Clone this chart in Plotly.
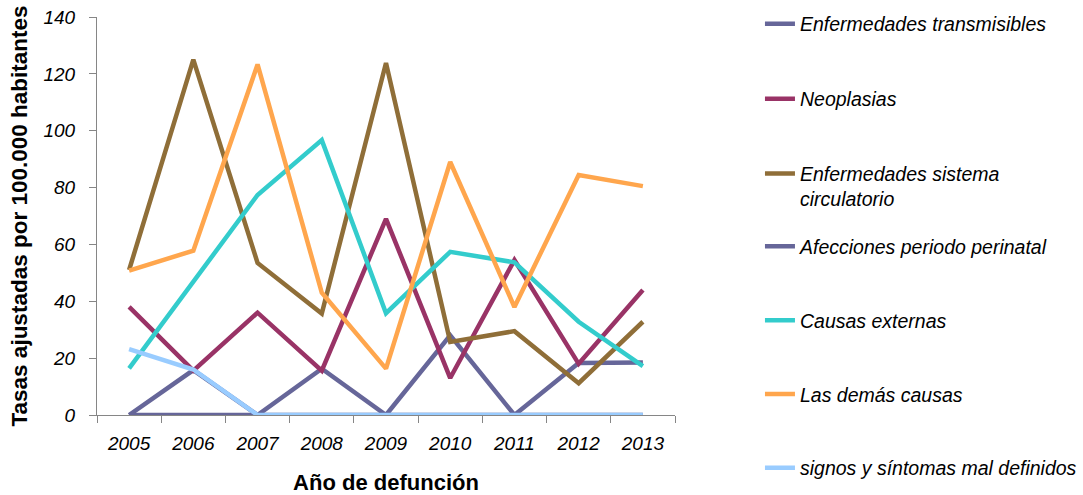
import plotly.graph_objects as go

# Años de defunción (categorías del eje X)
years = ["2005", "2006", "2007", "2008", "2009", "2010", "2011", "2012", "2013"]

# Tasas ajustadas por 100.000 habitantes, por gran grupo de causas
transmisibles = [0, 15.8, 0, 16.3, 0, 28, 0, 18.3, 18.5]
neoplasias = [38, 15.6, 36, 15.6, 69, 13, 54.5, 18, 44]
circulatorio = [51, 125, 53.5, 35.7, 123.8, 25.7, 29.5, 11.2, 32.8]
perinatal = [0, 0, 0, 0, 0, 0, 0, 0, 0]
externas = [16.4, 47, 77.4, 96.7, 35.8, 57.4, 53.7, 32.8, 17.2]
demas = [50.8, 57.8, 123.3, 43, 16.3, 89, 38, 84.4, 80.5]
signos = [23.2, 16, 0, 0, 0, 0, 0, 0, 0]

names = [
    "Enfermedades transmisibles",
    "Neoplasias",
    "Enfermedades sistema<br>circulatorio",
    "Afecciones periodo perinatal",
    "Causas externas",
    "Las demás causas",
    "signos y síntomas mal definidos",
]
series = [transmisibles, neoplasias, circulatorio, perinatal, externas, demas, signos]
colors = ["#666699", "#993366", "#8F6E38", "#666699", "#33CCCC", "#FFA64D", "#99CCFF"]
# las tres primeras causas van en la primera leyenda, el resto en la segunda
legends = ["legend", "legend", "legend", "legend2", "legend2", "legend2", "legend2"]

FONT = "Liberation Sans, Arial, sans-serif"

fig = go.Figure()
for name, vals, col, leg in zip(names, series, colors, legends):
    fig.add_trace(go.Scatter(
        x=years, y=vals, name=name, mode="lines",
        line=dict(color=col, width=4.5),
        legend=leg, legendgroup=name,
    ))

legend_font = dict(family=FONT, size=19.5, color="#000000", style="italic")
tick_font = dict(family=FONT, size=19, style="italic", color="#000000")

fig.update_layout(
    width=1083, height=495,
    margin=dict(l=97, r=408, t=17, b=80, autoexpand=False),
    paper_bgcolor="white", plot_bgcolor="white",
    font=dict(family=FONT, color="#000000"),
    showlegend=True,
    legend=dict(
        x=1.147, xanchor="left", y=1.031, yanchor="top",
        font=legend_font, tracegroupgap=46.5, valign="top",
        bgcolor="rgba(0,0,0,0)",
    ),
    legend2=dict(
        x=1.147, xanchor="left", y=0.472, yanchor="top",
        font=legend_font, tracegroupgap=45.5, valign="top",
        bgcolor="rgba(0,0,0,0)",
    ),
    xaxis=dict(
        type="category", range=[-0.5, 8.5], automargin=False,
        tickson="boundaries", ticks="outside", ticklen=7, tickangle=0,
        tickcolor="#868686", showline=True, linecolor="#868686", linewidth=1,
        showgrid=False, zeroline=False,
        tickfont=tick_font, ticklabelstandoff=11,
        title=dict(text="Año de defunción", standoff=23,
                   font=dict(family=FONT, size=22, weight="bold", color="#000000")),
    ),
    yaxis=dict(
        range=[0, 140], dtick=20, ticks="outside", ticklen=7, automargin=False,
        tickcolor="#868686", showline=True, linecolor="#868686", linewidth=1,
        showgrid=False, zeroline=False,
        tickfont=tick_font, ticklabelstandoff=10,
        title=dict(text="Tasas ajustadas por 100.000 habitantes", standoff=9,
                   font=dict(family=FONT, size=22.5, weight="bold", color="#000000")),
    ),
)

fig.write_html("out.html")
